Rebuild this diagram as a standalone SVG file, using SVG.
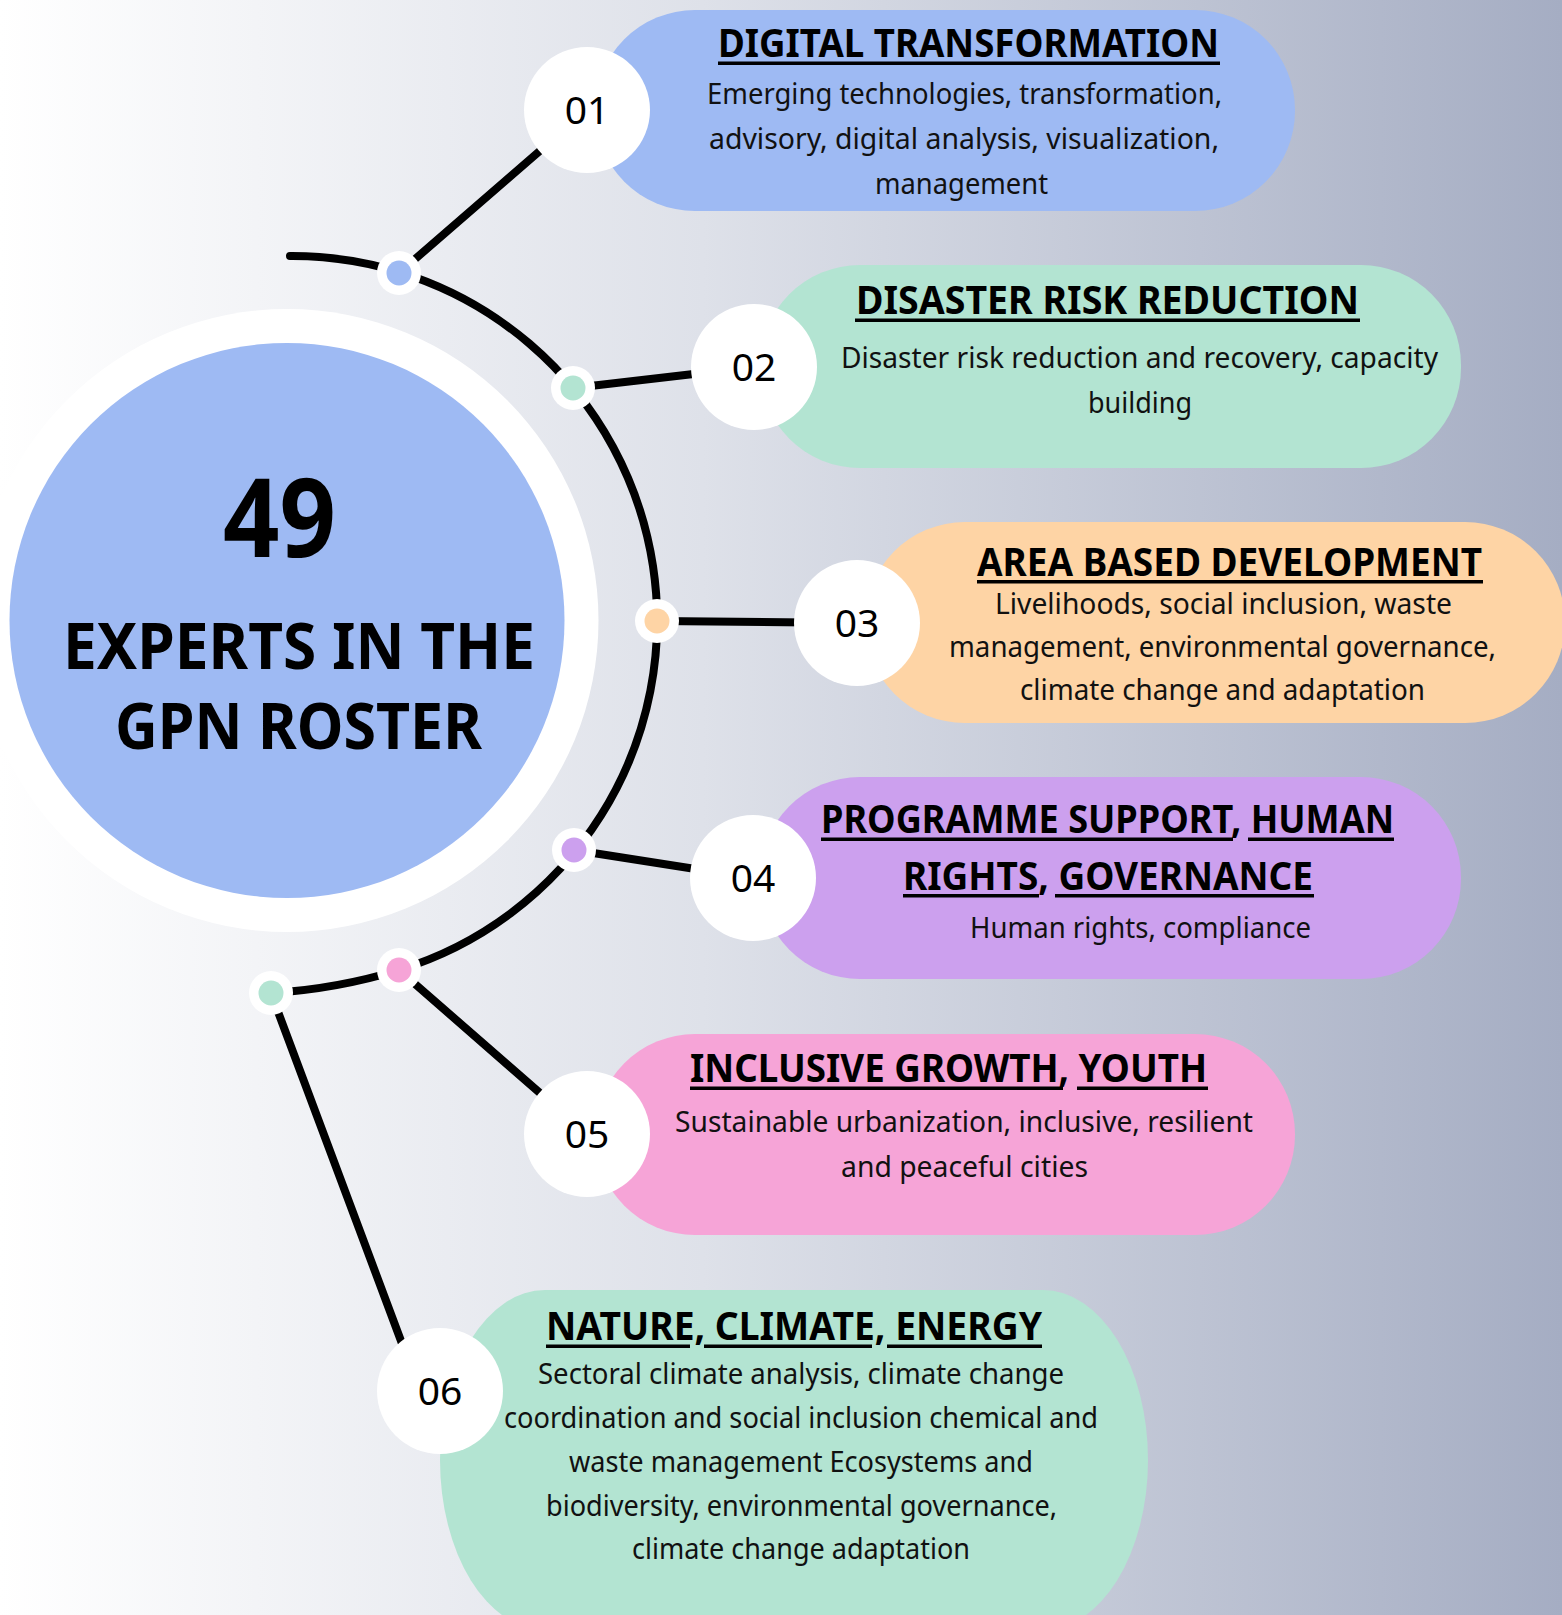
<svg xmlns="http://www.w3.org/2000/svg" width="1562" height="1615" viewBox="0 0 1562 1615">
<defs>
<linearGradient id="bg" x1="0" y1="0" x2="1" y2="0">
<stop offset="0" stop-color="#FFFFFF"/>
<stop offset="0.45" stop-color="#DEE1E9"/>
<stop offset="1" stop-color="#A5ADC3"/>
</linearGradient>
<style>
.num{font-family:"Noto Sans","Liberation Sans",sans-serif;font-size:39px;fill:#000;text-anchor:middle}
.ttl{font-family:"Noto Sans","Liberation Sans",sans-serif;font-size:39px;font-weight:700;fill:#000}
.body{font-family:"Noto Sans","Liberation Sans",sans-serif;font-size:29px;fill:#111}
.big{font-family:"Noto Sans","Liberation Sans",sans-serif;font-weight:700;fill:#000}
.ul{fill:#000}
.wc{fill:#FFFFFF}
.ln{stroke:#000;stroke-width:8;fill:none;stroke-linecap:round}
.blue{fill:#9EBAF3}
.green{fill:#B3E4D2}
.orange{fill:#FED4A5}
.purple{fill:#CCA0EE}
.pink{fill:#F6A4D7}
</style>
</defs>
<rect x="0" y="0" width="1562" height="1615" fill="url(#bg)"/>

<g id="center">
<circle cx="287" cy="620.5" r="311.5" class="wc"/>
<circle cx="287" cy="620.5" r="277.5" class="blue"/>
<text class="big" x="223" y="557" font-size="110" textLength="113" lengthAdjust="spacingAndGlyphs">49</text>
<text class="big" x="63" y="669" font-size="65" textLength="472" lengthAdjust="spacingAndGlyphs">EXPERTS IN THE</text>
<text class="big" x="115" y="749" font-size="65" textLength="367" lengthAdjust="spacingAndGlyphs">GPN ROSTER</text>
</g>

<g id="connectors">
<path class="ln" d="M 290 256 A 365 365 0 0 1 399 970 Q 337 989 271 993"/>
<line class="ln" x1="399" y1="273" x2="587" y2="110"/>
<line class="ln" x1="573" y1="388" x2="754" y2="367"/>
<line class="ln" x1="657" y1="621" x2="857" y2="623"/>
<line class="ln" x1="574" y1="850" x2="753" y2="878"/>
<line class="ln" x1="399" y1="970" x2="587" y2="1134"/>
<line class="ln" x1="271" y1="993" x2="410" y2="1365"/>
</g>

<g id="junctions">
<circle cx="399" cy="273" r="22" class="wc"/><circle cx="399" cy="273" r="12.5" class="blue"/>
<circle cx="573" cy="388" r="22" class="wc"/><circle cx="573" cy="388" r="12.5" class="green"/>
<circle cx="657" cy="621" r="22" class="wc"/><circle cx="657" cy="621" r="12.5" class="orange"/>
<circle cx="574" cy="850" r="22" class="wc"/><circle cx="574" cy="850" r="12.5" class="purple"/>
<circle cx="399" cy="970" r="22" class="wc"/><circle cx="399" cy="970" r="12.5" class="pink"/>
<circle cx="271" cy="993" r="22" class="wc"/><circle cx="271" cy="993" r="12.5" class="green"/>
</g>

<g id="node-01">
<rect x="595" y="10" width="700" height="201" rx="100" ry="100" class="blue"/>
<circle cx="587" cy="110" r="63" class="wc"/>
<text class="num" x="587" y="124">01</text>
<text class="ttl" x="718" y="57" textLength="501" lengthAdjust="spacingAndGlyphs">DIGITAL TRANSFORMATION</text>
<rect class="ul" x="718" y="61.5" width="502" height="3.5"/>
<text class="body" x="707" y="104" textLength="515" lengthAdjust="spacingAndGlyphs">Emerging technologies, transformation,</text>
<text class="body" x="709" y="149" textLength="510" lengthAdjust="spacingAndGlyphs">advisory, digital analysis, visualization,</text>
<text class="body" x="875" y="194" textLength="173" lengthAdjust="spacingAndGlyphs">management</text>
</g>

<g id="node-02">
<rect x="760" y="265" width="701" height="203" rx="100" ry="100" class="green"/>
<circle cx="754" cy="367" r="63" class="wc"/>
<text class="num" x="754" y="381">02</text>
<text class="ttl" x="856" y="314" textLength="503" lengthAdjust="spacingAndGlyphs">DISASTER RISK REDUCTION</text>
<rect class="ul" x="855" y="318.5" width="505" height="3.5"/>
<text class="body" x="841" y="368" textLength="597" lengthAdjust="spacingAndGlyphs">Disaster risk reduction and recovery, capacity</text>
<text class="body" x="1088" y="413" textLength="104" lengthAdjust="spacingAndGlyphs">building</text>
</g>

<g id="node-03">
<rect x="865" y="522" width="700" height="201" rx="100" ry="100" class="orange"/>
<circle cx="857" cy="623" r="63" class="wc"/>
<text class="num" x="857" y="637">03</text>
<text class="ttl" x="977" y="576" textLength="505" lengthAdjust="spacingAndGlyphs">AREA BASED DEVELOPMENT</text>
<rect class="ul" x="977" y="580" width="506" height="3.5"/>
<text class="body" x="995" y="614" textLength="457" lengthAdjust="spacingAndGlyphs">Livelihoods, social inclusion, waste</text>
<text class="body" x="949" y="657" textLength="547" lengthAdjust="spacingAndGlyphs">management, environmental governance,</text>
<text class="body" x="1020" y="700" textLength="405" lengthAdjust="spacingAndGlyphs">climate change and adaptation</text>
</g>

<g id="node-04">
<rect x="760" y="777" width="701" height="202" rx="100" ry="100" class="purple"/>
<circle cx="753" cy="878" r="63" class="wc"/>
<text class="num" x="753" y="892">04</text>
<text class="ttl" x="821" y="833" textLength="573" lengthAdjust="spacingAndGlyphs">PROGRAMME SUPPORT, HUMAN</text>
<rect class="ul" x="821" y="837.5" width="412" height="3.5"/>
<rect class="ul" x="1248" y="837.5" width="146" height="3.5"/>
<text class="ttl" x="903" y="890" textLength="410" lengthAdjust="spacingAndGlyphs">RIGHTS, GOVERNANCE</text>
<rect class="ul" x="903" y="894" width="136" height="3.5"/>
<rect class="ul" x="1055" y="894" width="259" height="3.5"/>
<text class="body" x="970" y="938" textLength="341" lengthAdjust="spacingAndGlyphs">Human rights, compliance</text>
</g>

<g id="node-05">
<rect x="595" y="1034" width="700" height="201" rx="100" ry="100" class="pink"/>
<circle cx="587" cy="1134" r="63" class="wc"/>
<text class="num" x="587" y="1148">05</text>
<text class="ttl" x="690" y="1082" textLength="517" lengthAdjust="spacingAndGlyphs">INCLUSIVE GROWTH, YOUTH</text>
<rect class="ul" x="690" y="1086.5" width="373" height="3.5"/>
<rect class="ul" x="1077" y="1086.5" width="131" height="3.5"/>
<text class="body" x="675" y="1132" textLength="578" lengthAdjust="spacingAndGlyphs">Sustainable urbanization, inclusive, resilient</text>
<text class="body" x="841" y="1177" textLength="247" lengthAdjust="spacingAndGlyphs">and peaceful cities</text>
</g>

<g id="node-06">
<rect x="440" y="1290" width="708" height="340" rx="105" ry="170" class="green"/>
<circle cx="440" cy="1391" r="63" class="wc"/>
<text class="num" x="440" y="1405">06</text>
<text class="ttl" x="546" y="1340" textLength="496" lengthAdjust="spacingAndGlyphs">NATURE, CLIMATE, ENERGY</text>
<rect class="ul" x="546" y="1344.5" width="144" height="3.5"/>
<rect class="ul" x="704" y="1344.5" width="168" height="3.5"/>
<rect class="ul" x="887" y="1344.5" width="155" height="3.5"/>
<text class="body" x="538" y="1384" textLength="526" lengthAdjust="spacingAndGlyphs">Sectoral climate analysis, climate change</text>
<text class="body" x="504" y="1428" textLength="594" lengthAdjust="spacingAndGlyphs">coordination and social inclusion chemical and</text>
<text class="body" x="569" y="1472" textLength="464" lengthAdjust="spacingAndGlyphs">waste management Ecosystems and</text>
<text class="body" x="546" y="1516" textLength="511" lengthAdjust="spacingAndGlyphs">biodiversity, environmental governance,</text>
<text class="body" x="632" y="1559" textLength="338" lengthAdjust="spacingAndGlyphs">climate change adaptation</text>
</g>
</svg>
